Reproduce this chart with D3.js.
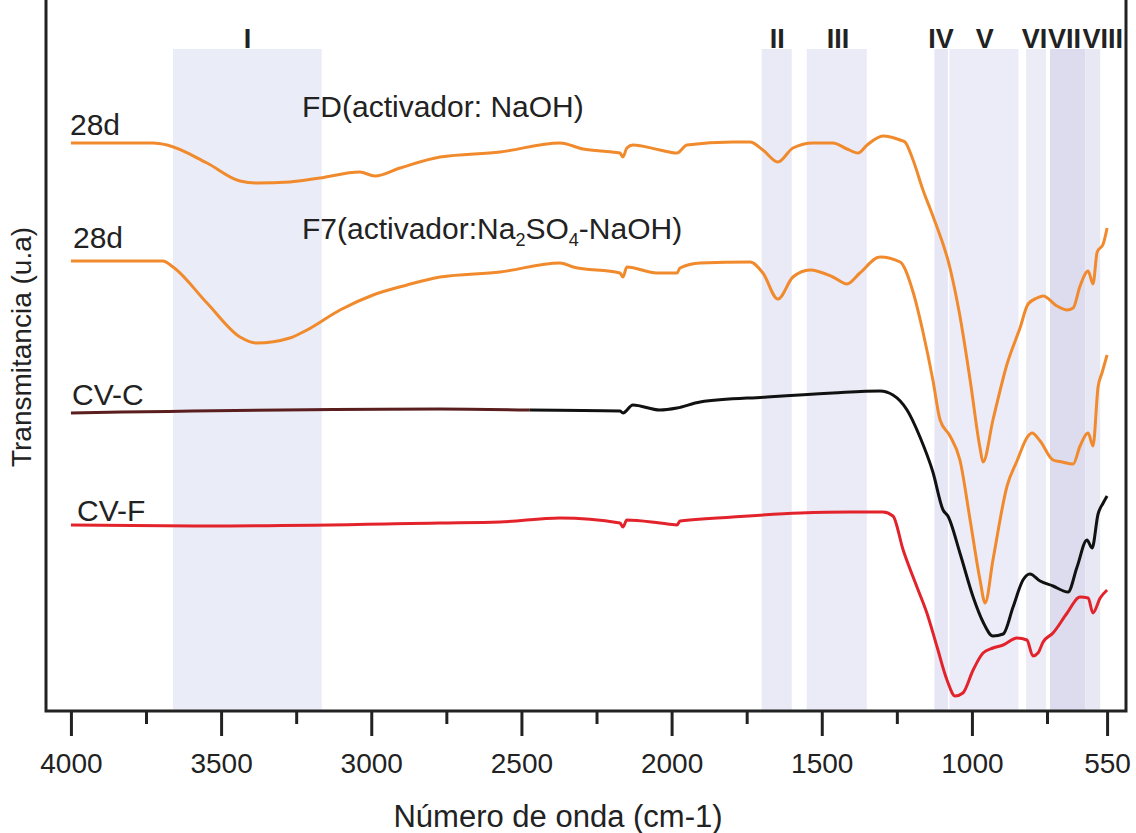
<!DOCTYPE html>
<html>
<head>
<meta charset="utf-8">
<script src="https://cdn.jsdelivr.net/npm/d3@7"></script>
<style>
  body { margin: 0; background: #fff; }
  svg { display: block; font-family: "Liberation Sans", Arial, sans-serif; }
</style>
</head>
<body>
<div id="chart"></div>
<script>
// FTIR spectra - values are [wavenumber (cm-1), transmittance (u.a.)]
const seriesFD = [[4000,56.8],[3727,56.8],[3680,56.6],[3547,54.8],[3437,53.0],[3381,52.8],[3271,52.9],[3171,53.3],[3038,53.9],[2988,53.5],[2904,54.3],[2771,55.4],[2571,55.9],[2372,56.8],[2295,56.2],[2172,55.8],[2162,55.4],[2149,56.3],[2129,56.6],[2039,56.1],[1982,55.8],[1949,56.6],[1796,56.9],[1739,56.9],[1696,56.1],[1646,54.9],[1596,56.3],[1529,56.8],[1463,56.8],[1416,56.2],[1379,55.8],[1349,56.6],[1296,57.5],[1239,57.1],[1223,56.9],[1196,55.1],[1163,52.1],[1130,49.5],[1073,44.3],[1040,39.5],[1006,33.1],[973,26.3],[963,24.9],[930,29.1],[883,34.7],[840,38.3],[813,40.7],[783,41.3],[763,41.5],[717,40.5],[683,40.1],[663,40.3],[640,42.5],[613,44.0],[597,42.7],[583,45.9],[563,46.7],[550,48.3]];

const seriesF7 = [[4000,45.0],[3694,45.0],[3660,44.4],[3547,40.8],[3437,37.4],[3381,36.8],[3271,37.3],[3214,38.1],[3104,40.1],[2994,41.6],[2881,42.6],[2771,43.4],[2571,43.9],[2372,44.8],[2328,44.4],[2172,43.8],[2162,43.4],[2149,44.4],[2049,43.8],[1982,43.8],[1972,44.3],[1905,44.8],[1739,44.9],[1696,43.8],[1646,41.2],[1596,43.4],[1539,44.1],[1463,43.4],[1416,42.7],[1373,43.8],[1306,45.4],[1239,44.9],[1196,41.9],[1163,37.9],[1130,33.1],[1106,29.1],[1073,27.5],[1040,25.1],[1006,19.1],[973,13.1],[956,10.8],[930,15.1],[883,22.5],[850,25.0],[813,27.5],[800,27.8],[773,27.0],[730,25.1],[700,24.9],[663,24.7],[640,26.5],[613,27.8],[597,26.5],[580,32.4],[567,33.8],[550,35.6]];

const seriesCVC = [[4000,29.8],[2771,30.2],[2472,30.1],[2172,30.0],[2162,29.8],[2129,30.6],[2039,30.1],[1982,30.3],[1905,30.9],[1682,31.4],[1463,31.8],[1306,32.0],[1263,31.6],[1216,30.1],[1173,27.4],[1130,23.9],[1096,20.1],[1080,19.5],[1040,15.8],[996,11.4],[963,8.9],[930,7.5],[896,7.7],[863,10.4],[830,13.1],[807,13.7],[773,13.0],[730,12.5],[680,11.9],[650,14.4],[617,17.1],[600,16.3],[580,19.7],[563,20.8],[550,21.5]];

const seriesCVF = [[4000,18.6],[3547,18.5],[2771,18.8],[2571,18.9],[2372,19.3],[2172,18.8],[2162,18.4],[2149,19.1],[2039,18.8],[1982,18.6],[1972,19.0],[1796,19.4],[1572,19.8],[1406,19.9],[1296,19.9],[1263,19.5],[1229,16.1],[1183,12.4],[1150,9.8],[1116,6.4],[1083,3.1],[1056,1.5],[1030,1.8],[996,4.1],[963,5.8],[930,6.3],[896,6.6],[850,7.3],[817,7.1],[797,5.5],[780,5.8],[763,6.9],[730,7.8],[683,9.8],[640,11.4],[613,11.3],[597,9.8],[573,11.3],[550,12.1]];

// shaded bands: [from, to] in cm-1, label, label position
const bandRanges = [[3660,3165],[1700,1600],[1550,1350],[1125,1080],[1075,845],[820,753],[740,623],[623,573]];
const bandNames = ["I","II","III","IV","V","VI","VII","VIII"];
const bandLabelAt = [3412,1648,1446,1103,957,792,692,564];
const bandFills = ["#eaedf7","#e9eaf6","#ebebf7","#e6e6f4","#ececf8","#ececf7","#dcdcee","#e8e8f5"];

const majorTicks = [4000,3500,3000,2500,2000,1500,1000,550];
const minorTicks = [3750,3250,2750,2250,1750,1250,750];

const W = 1136, H = 833;
const frame = {left: 46, right: 1126, top: 0, bottom: 711};

const svg = d3.select('#chart').append('svg')
    .attr('width', W)
    .attr('height', H)
    .style('background', '#fff');

const x = d3.scaleLinear().domain([4083, 487]).range([frame.left, frame.right]);
const y = d3.scaleLinear().domain([0, 71.1]).range([frame.bottom, frame.top]);

// bands
const bandTop = 49;
svg.append('g').selectAll('rect')
    .data(bandRanges)
    .enter()
    .append('rect')
    .attr('x', d => x(d[0]))
    .attr('width', d => x(d[1]) - x(d[0]))
    .attr('y', bandTop)
    .attr('height', frame.bottom - bandTop)
    .attr('fill', (d, i) => bandFills[i]);

svg.append('g').selectAll('text')
    .data(bandNames)
    .enter()
    .append('text')
    .attr('x', (d, i) => x(bandLabelAt[i]))
    .attr('y', 48)
    .attr('text-anchor', 'middle')
    .attr('font-size', '27px')
    .attr('font-weight', 'bold')
    .attr('fill', '#222')
    .text(d => d);

// spectra
const line = d3.line()
    .x(d => x(d[0]))
    .y(d => y(d[1]))
    .curve(d3.curveMonotoneX);

const cvcStart = seriesCVC.filter(d => d[0] >= 2472);
const cvcRest = seriesCVC.filter(d => d[0] <= 2472);

const curves = [
    {data: seriesCVF, color: '#e3232b'},
    {data: cvcStart, color: '#5a1e1e'},
    {data: cvcRest, color: '#111'},
    {data: seriesF7, color: '#f08a2c'},
    {data: seriesFD, color: '#f08a2c'}
];

svg.append('g').selectAll('path')
    .data(curves)
    .enter()
    .append('path')
    .attr('d', d => line(d.data))
    .attr('fill', 'none')
    .attr('stroke', d => d.color)
    .attr('stroke-width', 3)
    .attr('stroke-linejoin', 'round');

// axes
const axisMajor = svg.append('g')
    .attr('transform', `translate(0,${frame.bottom})`)
    .call(d3.axisBottom(x).tickValues(majorTicks).tickSize(25).tickPadding(17).tickFormat(d3.format('d')));
axisMajor.select('.domain').remove();
axisMajor.selectAll('line').attr('stroke', '#222').attr('stroke-width', 3);
axisMajor.selectAll('text')
    .attr('font-size', '28px')
    .attr('font-family', '"Liberation Sans", Arial, sans-serif')
    .attr('fill', '#222');

const axisMinor = svg.append('g')
    .attr('transform', `translate(0,${frame.bottom})`)
    .call(d3.axisBottom(x).tickValues(minorTicks).tickSize(13).tickFormat(''));
axisMinor.select('.domain').remove();
axisMinor.selectAll('line').attr('stroke', '#222').attr('stroke-width', 3);

// frame (left, bottom, right)
svg.append('path')
    .attr('d', `M${frame.left},${frame.top}V${frame.bottom}H${frame.right}V${frame.top}`)
    .attr('fill', 'none')
    .attr('stroke', '#222')
    .attr('stroke-width', 3);

// titles
svg.append('text')
    .attr('x', 558)
    .attr('y', 827)
    .attr('text-anchor', 'middle')
    .attr('font-size', '31px')
    .attr('fill', '#222')
    .text('Número de onda (cm-1)');

svg.append('text')
    .attr('transform', 'translate(31,347) rotate(-90)')
    .attr('text-anchor', 'middle')
    .attr('font-size', '28px')
    .attr('fill', '#222')
    .text('Transmitancia (u.a)');

// curve labels
const labels = [
    {t: '28d', x: 70, y: 135},
    {t: '28d', x: 73, y: 248},
    {t: 'CV-C', x: 72, y: 405},
    {t: 'CV-F', x: 77, y: 521},
    {t: 'FD(activador: NaOH)', x: 302, y: 117}
];
svg.append('g').selectAll('text')
    .data(labels)
    .enter()
    .append('text')
    .attr('x', d => d.x)
    .attr('y', d => d.y)
    .attr('font-size', '30px')
    .attr('fill', '#222')
    .text(d => d.t);

const f7 = svg.append('text')
    .attr('x', 302)
    .attr('y', 239)
    .attr('font-size', '30px')
    .attr('fill', '#222');
f7.append('tspan').text('F7(activador:Na');
f7.append('tspan').attr('font-size', '18px').attr('dy', 7).text('2');
f7.append('tspan').attr('dy', -7).text('SO');
f7.append('tspan').attr('font-size', '18px').attr('dy', 7).text('4');
f7.append('tspan').attr('dy', -7).text('-NaOH)');
</script>
</body>
</html>
